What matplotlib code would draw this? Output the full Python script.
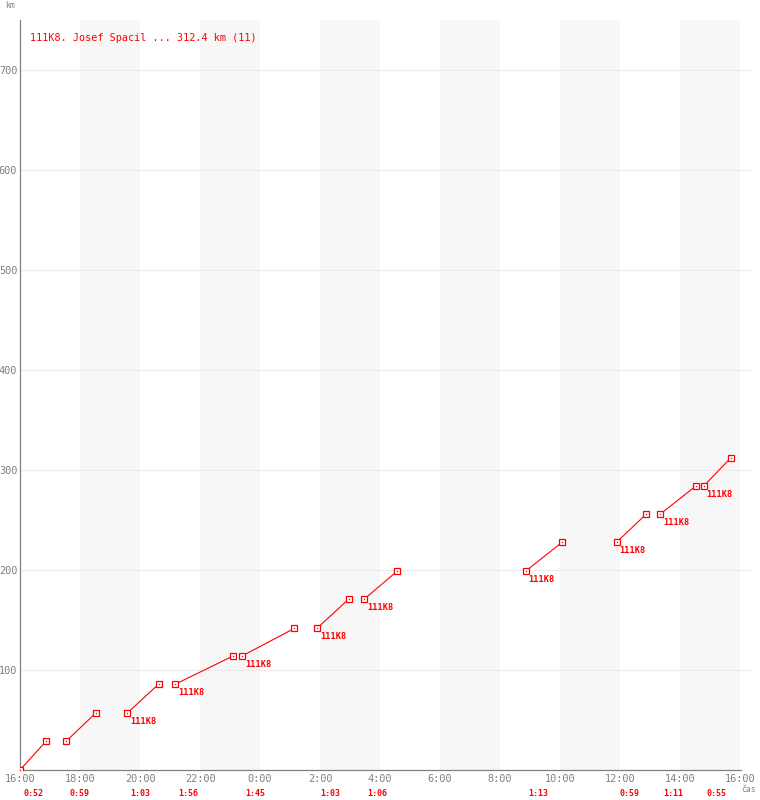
import matplotlib.pyplot as plt
import matplotlib.transforms as mtransforms

# legs of the flight: start clock time, duration, km at start / end
leg_start = ["16:00", "17:32", "19:34", "21:10", "23:24", "1:54",
             "3:28", "8:51", "11:53", "13:20", "14:47"]
leg_dur = ["0:52", "0:59", "1:03", "1:56", "1:45", "1:03",
           "1:06", "1:13", "0:59", "1:11", "0:55"]
km_from = [0, 28.7, 56.7, 85.7, 114.0, 141.7, 170.7, 198.7, 227.7, 255.7, 283.7]
km_to = [28.7, 56.7, 85.7, 114.0, 141.7, 170.7, 198.7, 227.7, 255.7, 283.7, 312.4]
has_label = [False, False, True, True, True, True, True, True, True, True, True]
label_text = "111K8"
title = "111K8. Josef Spacil ... 312.4 km (11)"

x_ticks = [0, 2, 4, 6, 8, 10, 12, 14, 16, 18, 20, 22, 24]
x_tick_labels = ["16:00", "18:00", "20:00", "22:00", "0:00", "2:00", "4:00",
                 "6:00", "8:00", "10:00", "12:00", "14:00", "16:00"]
y_ticks = [100, 200, 300, 400, 500, 600, 700]
shade_bands = [(2, 4), (6, 8), (10, 12), (14, 16), (18, 20), (22, 24)]


def hours_since_16(s):
    h, m = s.split(":")
    v = int(h) + int(m) / 60.0 - 16
    if v < 0:
        v += 24
    return v


def dur_hours(s):
    h, m = s.split(":")
    return int(h) + int(m) / 60.0


RED = "#ff0000"
GREY = "#808080"
MONO = "DejaVu Sans Mono"

fig = plt.figure(figsize=(7.6, 8.0), dpi=100)
W, H = 760, 800
ax = fig.add_axes([20 / W, 30 / H, 731 / W, 750 / H])
ax.set_xlim(0, 731 / 30)
ax.set_ylim(0, 750)

for a, b in shade_bands:
    ax.axvspan(a, b, color="#f7f7f7", lw=0, zorder=0)
for y in y_ticks:
    ax.axhline(y, color="#ebebeb", lw=0.8, zorder=1)

for i in range(len(leg_start)):
    x0 = hours_since_16(leg_start[i])
    x1 = x0 + dur_hours(leg_dur[i])
    ax.plot([x0, x1], [km_from[i], km_to[i]], color=RED, lw=0.8, zorder=3,
            marker="s", ms=4.6, mfc="white", mec=RED, mew=0.9)
    ax.plot([x0, x1], [km_from[i], km_to[i]], ls="none", marker="s", ms=0.9,
            color=RED, mew=0, zorder=4)
    if has_label[i]:
        ax.annotate(label_text, (x0, km_from[i]), xytext=(2.2, -3),
                    textcoords="offset points", ha="left", va="top",
                    fontsize=6.2, fontweight="bold", color=RED, family=MONO)
    ax.annotate(leg_dur[i], (x0, 0), xytext=(2.2, -17.2),
                textcoords="offset points", ha="left", va="center",
                fontsize=6.0, fontweight="bold", color=RED, family=MONO,
                annotation_clip=False)

ax.set_xticks(x_ticks)
ax.set_xticklabels(x_tick_labels)
ax.set_yticks(y_ticks)
ax.tick_params(length=0, colors=GREY, labelsize=7.4, pad=2)
ax.tick_params(axis="x", pad=3)
for lab in ax.get_xticklabels() + ax.get_yticklabels():
    lab.set_family(MONO)

for side in ["top", "right"]:
    ax.spines[side].set_visible(False)
ax.spines["left"].set_color(GREY)
ax.spines["bottom"].set_color(GREY)
ax.spines["left"].set_linewidth(0.9)
ax.spines["bottom"].set_linewidth(0.9)
ax.spines["bottom"].set_bounds(0, 24.03)

fig.text(30 / W, 1 - 38 / H, title, color=RED, fontsize=7.3, family=MONO,
         ha="left", va="center")
fig.text(5 / W, 1 - 6 / H, "km", color=GREY, fontsize=5.8, family=MONO,
         ha="left", va="center")
fig.text(741 / W, 1 - 790 / H, "čas", color=GREY, fontsize=5.8, family=MONO,
         ha="left", va="center")

fig.savefig("out.png", dpi=100)
